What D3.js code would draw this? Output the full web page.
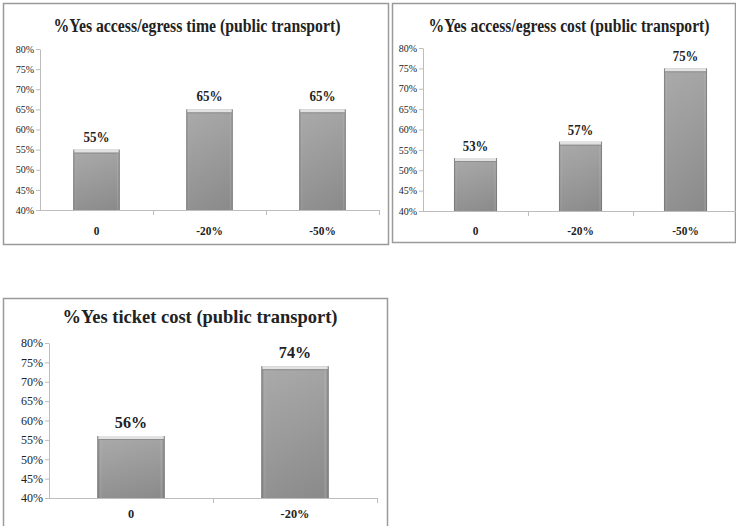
<!DOCTYPE html>
<html>
<head>
<meta charset="utf-8">
<script src="https://cdn.jsdelivr.net/npm/d3@7"></script>
<style>
  html, body { margin: 0; padding: 0; background: #fff; }
  svg { display: block; }
  svg text { font-family: "Liberation Serif", "DejaVu Serif", "Times New Roman", serif !important; fill: #222; }
</style>
</head>
<body>
<svg id="chart" width="736" height="526"></svg>
<script>
// Share of "yes" answers for each scenario
const titleTime = "%Yes access/egress time (public transport)";
const titleCost = "%Yes access/egress cost (public transport)";
const titleTicket = "%Yes ticket cost (public transport)";

const catsTime = ["0", "-20%", "-50%"];
const valsTime = [55, 65, 65];

const catsCost = ["0", "-20%", "-50%"];
const valsCost = [53, 57, 75];

const catsTicket = ["0", "-20%"];
const valsTicket = [56, 74];

const yTickValues = [40, 45, 50, 55, 60, 65, 70, 75, 80];
const yDomain = [40, 80];

const FONT = "'Liberation Serif', 'DejaVu Serif', serif";

const svg = d3.select("#chart");
const defs = svg.append("defs");

// bar body: lighter at top, darker toward the base
const gv = defs.append("linearGradient").attr("id", "barV")
  .attr("x1", 0).attr("y1", 0).attr("x2", 0).attr("y2", 1);
gv.append("stop").attr("offset", "0%").attr("stop-color", "#a5a5a5");
gv.append("stop").attr("offset", "100%").attr("stop-color", "#8a8a8a");

// bevelled sides
const gh = defs.append("linearGradient").attr("id", "barH")
  .attr("x1", 0).attr("y1", 0).attr("x2", 1).attr("y2", 0);
gh.append("stop").attr("offset", "0%").attr("stop-color", "#4a4a4a").attr("stop-opacity", 0.6);
gh.append("stop").attr("offset", "7%").attr("stop-color", "#ffffff").attr("stop-opacity", 0.06);
gh.append("stop").attr("offset", "93%").attr("stop-color", "#ffffff").attr("stop-opacity", 0.0);
gh.append("stop").attr("offset", "100%").attr("stop-color", "#4a4a4a").attr("stop-opacity", 0.65);

function panel(cfg) {
  const g = svg.append("g");

  // frame
  g.append("rect")
    .attr("x", cfg.frame[0] + 0.5).attr("y", cfg.frame[1] + 0.5)
    .attr("width", cfg.frame[2] - cfg.frame[0]).attr("height", cfg.frame[3] - cfg.frame[1])
    .attr("fill", "none").attr("stroke", "#9a9a9a").attr("stroke-width", 1.5);

  // title
  g.append("text")
    .attr("x", cfg.titleX).attr("y", cfg.titleY)
    .attr("text-anchor", "middle")
    .attr("font-weight", "bold")
    .attr("font-size", cfg.titleSize)
    .attr("textLength", cfg.titleLen)
    .attr("lengthAdjust", "spacingAndGlyphs")
    .style("font-family", FONT)
    .text(cfg.title);

  const x = d3.scaleBand().domain(cfg.cats).range(cfg.xRange).paddingInner(0.59).paddingOuter(0.295);
  const xb = d3.scaleBand().domain(cfg.cats).range(cfg.xRange);
  const y = d3.scaleLinear().domain(yDomain).range(cfg.yRange);

  // y axis
  const yAxis = d3.axisLeft(y).tickValues(yTickValues).tickSize(4).tickSizeOuter(0)
    .tickFormat(d => d + "%");
  const ya = g.append("g").attr("transform", `translate(${cfg.xRange[0]},0)`).call(yAxis);
  ya.attr("font-family", null);
  ya.select(".domain").attr("stroke", "#bdbdbd");
  ya.selectAll(".tick line").attr("stroke", "#bdbdbd");
  ya.selectAll(".tick text")
    .style("font-family", FONT)
    .attr("font-size", cfg.tickSize)
    .attr("fill", "#2a2a2a")
    .attr("x", -6);

  // x axis: baseline with marks between categories
  const xa = g.append("g").attr("transform", `translate(0,${cfg.yRange[0]})`);
  xa.append("line")
    .attr("x1", cfg.xRange[0]).attr("x2", cfg.xRange[1])
    .attr("y1", 0.5).attr("y2", 0.5)
    .attr("stroke", "#bdbdbd");
  const bounds = cfg.cats.map(c => xb(c)).slice(1).concat([cfg.xRange[1]]);
  xa.selectAll("line.sep").data(bounds).join("line").attr("class", "sep")
    .attr("x1", d => d + 0.5).attr("x2", d => d + 0.5)
    .attr("y1", 0).attr("y2", 5)
    .attr("stroke", "#bdbdbd");

  // category labels
  g.selectAll("text.cat").data(cfg.cats).join("text").attr("class", "cat")
    .attr("transform", d => `translate(${x(d) + x.bandwidth() / 2},${cfg.catY}) scale(${cfg.catSx},1)`)
    .attr("text-anchor", "middle")
    .attr("font-weight", "bold")
    .attr("font-size", cfg.catSize)
    .style("font-family", FONT)
    .text(d => d);

  const data = cfg.cats.map((c, i) => ({ c, v: cfg.vals[i] }));
  const bars = g.selectAll("g.bar").data(data).join("g").attr("class", "bar");

  bars.append("rect")
    .attr("x", d => x(d.c)).attr("y", d => y(d.v))
    .attr("width", x.bandwidth()).attr("height", d => y(yDomain[0]) - y(d.v))
    .attr("fill", "url(#barV)");
  bars.append("rect")
    .attr("x", d => x(d.c)).attr("y", d => y(d.v))
    .attr("width", x.bandwidth()).attr("height", d => y(yDomain[0]) - y(d.v))
    .attr("fill", "url(#barH)");
  // light top cap
  bars.append("rect")
    .attr("x", d => x(d.c) + 1).attr("y", d => y(d.v))
    .attr("width", x.bandwidth() - 2).attr("height", 3)
    .attr("fill", "#e2e2e2");
  bars.append("line")
    .attr("x1", d => x(d.c) + 1).attr("x2", d => x(d.c) + x.bandwidth() - 1)
    .attr("y1", d => y(d.v) + 3.5).attr("y2", d => y(d.v) + 3.5)
    .attr("stroke", "#8d8d8d").attr("stroke-width", 1);

  // value labels
  bars.append("text")
    .attr("transform", d => `translate(${x(d.c) + x.bandwidth() / 2},${y(d.v) - cfg.labelGap}) scale(${cfg.labelSx},1)`)
    .attr("text-anchor", "middle")
    .attr("font-weight", "bold")
    .attr("font-size", cfg.labelSize)
    .style("font-family", FONT)
    .text(d => d.v + "%");
}

panel({
  frame: [3, 3, 388, 244],
  title: titleTime, titleX: 197, titleY: 32, titleSize: 18, titleLen: 287,
  cats: catsTime, vals: valsTime,
  xRange: [40, 379], yRange: [210, 49],
  tickSize: 10, catSize: 12, catSx: 0.95, catY: 235,
  labelSize: 15, labelSx: 0.87, labelGap: 8
});

panel({
  frame: [392, 3, 735, 242],
  title: titleCost, titleX: 569, titleY: 32, titleSize: 18, titleLen: 281,
  cats: catsCost, vals: valsCost,
  xRange: [423, 738], yRange: [211, 48],
  tickSize: 10, catSize: 12, catSx: 0.95, catY: 235,
  labelSize: 15, labelSx: 0.85, labelGap: 7
});

panel({
  frame: [3, 298, 387, 540],
  title: titleTicket, titleX: 200, titleY: 323, titleSize: 19, titleLen: 275,
  cats: catsTicket, vals: valsTicket,
  xRange: [49, 377], yRange: [498, 343],
  tickSize: 12, catSize: 13, catSx: 0.95, catY: 518,
  labelSize: 17, labelSx: 0.95, labelGap: 8
});
</script>
</body>
</html>
